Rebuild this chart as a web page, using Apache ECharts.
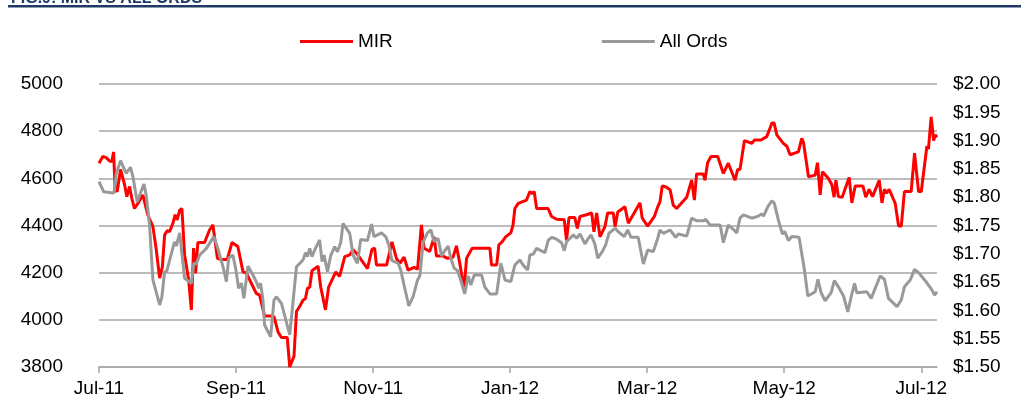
<!DOCTYPE html>
<html>
<head>
<meta charset="utf-8">
<script src="https://cdn.jsdelivr.net/npm/echarts@6/dist/echarts.min.js"></script>
<style>
  html, body { margin: 0; padding: 0; background: #fff; }
  #chart { width: 1021px; height: 410px; }
</style>
</head>
<body>
<div id="chart"></div>
<script>
// x = calendar days since 1 Jul 2011
var tickDays = [0, 61, 122, 183, 244, 305, 366];
var tickLabels = ['Jul-11', 'Sep-11', 'Nov-11', 'Jan-12', 'Mar-12', 'May-12', 'Jul-12'];

// MIR share price ($, right axis)
var mirDays = [0, 1.7, 3.2, 4.7, 5.7, 6.5, 7.2, 8.1, 9.6, 11.4, 12.4, 13.6, 14.6, 15.8, 17.3, 19.5,
  21.7, 24.0, 25.5, 27.0, 28.2, 29.2, 30.4, 31.4, 32.9, 33.9, 34.8, 35.9, 36.9, 38.1, 39.9, 41.1,
  42.1, 43.0, 44.0, 47.0, 49.2, 50.7, 51.5, 52.7, 54.4, 57.1, 59.2, 61.8, 62.6, 64.1, 65.6, 67.8,
  70.0, 71.5, 73.7, 76.0, 77.9, 79.7, 81.2, 83.8, 84.9, 86.8, 87.9, 89.3, 90.8, 91.9, 92.8, 93.8,
  94.8, 97.5, 98.7, 100.8, 102.2, 104.2, 105.4, 107.1, 109.4, 111.6, 113.1, 114.6, 119.5, 121.5,
  122.7, 123.5, 128.0, 130.4, 132.4, 133.9, 135.8, 137.6, 140.2, 141.8, 143.5, 144.7, 147.2, 149.2,
  150.2, 153.2, 155.1, 157.6, 159.1, 160.6, 162.5, 163.6, 166.1, 174.0, 174.7, 177.0, 178.0, 179.4,
  181.0, 183.3, 184.3, 185.1, 186.6, 190.3, 191.8, 192.7, 193.7, 194.8, 199.9, 201.4, 203.7, 207.1,
  208.1, 209.2, 211.8, 212.9, 214.1, 217.0, 219.3, 220.3, 221.5, 223.0, 225.2, 226.4, 228.9, 229.7,
  230.9, 234.1, 235.6, 240.8, 241.8, 244.2, 247.2, 248.7, 249.7, 250.7, 252.4, 254.2, 255.6, 257.1,
  261.6, 263.8, 265.0, 266.0, 269.0, 269.7, 270.9, 272.4, 275.4, 277.9, 280.1, 283.1, 284.3, 285.3,
  287.3, 290.6, 291.7, 294.7, 297.2, 298.7, 299.5, 300.5, 301.7, 304.6, 306.2, 307.6, 311.3, 312.8,
  313.6, 315.8, 318.8, 319.8, 321.0, 322.0, 324.7, 326.2, 327.2, 328.0, 329.1, 330.8, 333.9, 335.1,
  336.6, 340.0, 341.3, 342.8, 344.3, 347.3, 348.5, 349.6, 350.6, 351.7, 354.4, 355.9, 357.1, 358.5,
  361.5, 363.0, 364.8, 366.0, 368.5, 369.2, 370.4, 371.5, 372.2, 373.0];
var mirPrice = [1.860, 1.872, 1.870, 1.864, 1.863, 1.880, 1.813, 1.810, 1.849, 1.822, 1.801, 1.819,
  1.798, 1.780, 1.789, 1.804, 1.769, 1.748, 1.707, 1.657, 1.677, 1.733, 1.741, 1.739, 1.754, 1.769,
  1.760, 1.777, 1.780, 1.698, 1.654, 1.601, 1.710, 1.666, 1.720, 1.720, 1.742, 1.751, 1.748, 1.692,
  1.690, 1.690, 1.720, 1.713, 1.710, 1.668, 1.666, 1.648, 1.630, 1.627, 1.590, 1.590, 1.589, 1.562,
  1.552, 1.552, 1.500, 1.519, 1.598, 1.607, 1.618, 1.621, 1.639, 1.641, 1.670, 1.678, 1.641, 1.601,
  1.641, 1.658, 1.668, 1.660, 1.695, 1.698, 1.707, 1.701, 1.674, 1.708, 1.710, 1.680, 1.680, 1.721,
  1.692, 1.683, 1.694, 1.671, 1.676, 1.673, 1.751, 1.710, 1.704, 1.730, 1.696, 1.696, 1.692, 1.694,
  1.714, 1.683, 1.637, 1.692, 1.710, 1.710, 1.680, 1.680, 1.716, 1.721, 1.730, 1.737, 1.751, 1.780,
  1.789, 1.795, 1.810, 1.806, 1.810, 1.780, 1.780, 1.766, 1.761, 1.760, 1.724, 1.764, 1.764, 1.745,
  1.766, 1.769, 1.772, 1.739, 1.772, 1.730, 1.748, 1.772, 1.772, 1.748, 1.774, 1.783, 1.754, 1.790,
  1.763, 1.749, 1.766, 1.783, 1.792, 1.820, 1.818, 1.813, 1.786, 1.780, 1.800, 1.830, 1.795, 1.841,
  1.841, 1.830, 1.861, 1.872, 1.872, 1.842, 1.860, 1.830, 1.849, 1.849, 1.900, 1.895, 1.901, 1.901,
  1.907, 1.922, 1.931, 1.931, 1.910, 1.895, 1.890, 1.875, 1.880, 1.904, 1.896, 1.836, 1.839, 1.861,
  1.804, 1.845, 1.833, 1.822, 1.800, 1.830, 1.801, 1.800, 1.835, 1.790, 1.820, 1.820, 1.800, 1.814,
  1.801, 1.830, 1.790, 1.814, 1.807, 1.814, 1.789, 1.749, 1.749, 1.810, 1.810, 1.878, 1.810, 1.810,
  1.890, 1.885, 1.942, 1.900, 1.910, 1.906];

// All Ordinaries index (left axis)
var ordsDays = [0, 2.1, 5.4, 6.7, 7.7, 9.6, 12.1, 14.0, 15.1, 17.0, 20.0, 21.0, 22.5, 24.0, 27.0,
  28.0, 29.2, 30.1, 33.6, 34.4, 35.9, 38.1, 41.1, 42.2, 43.3, 44.8, 47.8, 51.1, 52.9, 55.2, 56.7,
  57.7, 59.6, 61.1, 62.1, 63.4, 64.5, 66.3, 68.5, 70.0, 71.1, 71.9, 73.0, 73.7, 76.4, 77.9, 78.9,
  81.2, 82.6, 84.9, 87.9, 90.8, 91.9, 92.8, 93.8, 94.8, 96.0, 98.2, 99.3, 100.2, 101.7, 103.1, 104.9,
  106.1, 107.6, 108.6, 111.6, 113.1, 115.0, 116.5, 119.5, 121.3, 122.4, 125.7, 127.6, 129.0, 130.4,
  133.1, 134.3, 136.1, 137.9, 139.8, 141.8, 142.8, 144.3, 146.2, 147.7, 149.2, 150.9, 152.5, 153.9,
  155.4, 156.6, 158.1, 159.6, 161.0, 162.8, 164.3, 165.5, 167.0, 170.3, 171.7, 174.0, 177.0, 178.9,
  180.7, 183.3, 185.1, 187.3, 188.8, 190.8, 191.8, 193.3, 194.8, 196.7, 198.5, 200.0, 201.7, 203.8,
  205.9, 207.1, 208.1, 211.1, 212.6, 214.1, 216.3, 217.5, 219.0, 220.7, 222.0, 224.0, 225.5, 227.0,
  229.7, 231.1, 233.8, 235.3, 236.8, 240.0, 242.3, 244.2, 246.7, 248.7, 249.7, 251.2, 254.2, 256.7,
  257.9, 261.6, 263.8, 266.0, 269.0, 270.1, 272.0, 276.5, 277.9, 280.1, 282.2, 283.9, 285.3, 286.8,
  290.6, 293.5, 295.0, 295.8, 297.7, 299.5, 300.6, 302.4, 304.2, 305.2, 306.9, 308.4, 311.6, 312.1,
  314.0, 315.5, 318.8, 320.0, 321.4, 323.2, 325.9, 327.3, 329.1, 331.4, 333.3, 335.1, 336.3, 337.3,
  341.8, 343.7, 347.7, 349.6, 351.4, 355.2, 357.1, 358.5, 361.1, 363.0, 364.8, 368.5, 370.8, 371.9,
  373.0];
var ordsIndex = [4586, 4543, 4539, 4539, 4621, 4675, 4621, 4647, 4607, 4501, 4576, 4529, 4402, 4169,
  4063, 4097, 4204, 4204, 4331, 4313, 4369, 4176, 4155, 4240, 4237, 4275, 4303, 4353, 4303, 4225,
  4162, 4261, 4275, 4204, 4134, 4155, 4091, 4228, 4190, 4162, 4134, 4155, 4084, 3978, 3928, 4084,
  4098, 4070, 4020, 3936, 4225, 4254, 4285, 4268, 4303, 4268, 4296, 4339, 4247, 4275, 4204, 4271,
  4310, 4289, 4327, 4409, 4367, 4275, 4240, 4341, 4336, 4406, 4353, 4369, 4353, 4317, 4251, 4240,
  4211, 4134, 4059, 4098, 4169, 4186, 4331, 4369, 4381, 4331, 4346, 4271, 4293, 4313, 4261, 4219,
  4208, 4169, 4110, 4186, 4148, 4190, 4190, 4140, 4110, 4110, 4240, 4169, 4162, 4232, 4254, 4232,
  4211, 4275, 4279, 4303, 4293, 4285, 4339, 4350, 4341, 4327, 4293, 4331, 4360, 4346, 4364, 4322,
  4341, 4360, 4322, 4261, 4289, 4317, 4367, 4388, 4374, 4353, 4381, 4350, 4350, 4237, 4296, 4289,
  4346, 4381, 4367, 4381, 4350, 4364, 4355, 4431, 4420, 4420, 4426, 4402, 4402, 4327, 4402, 4385,
  4369, 4431, 4445, 4431, 4440, 4449, 4440, 4480, 4505, 4494, 4423, 4364, 4375, 4336, 4353, 4350,
  4346, 4211, 4101, 4119, 4172, 4115, 4081, 4115, 4166, 4140, 4101, 4034, 4110, 4155, 4115, 4119,
  4091, 4186, 4172, 4091, 4056, 4084, 4140, 4169, 4214, 4200, 4157, 4126, 4105, 4119];

function zip(xs, ys) {
  return xs.map(function (x, i) { return [x, ys[i]]; });
}

var chart = echarts.init(document.getElementById('chart'));
var font = 'Liberation Sans, Arial, sans-serif';

var option = {
  animation: false,
  backgroundColor: '#fff',
  textStyle: { fontFamily: font },
  title: {
    text: 'FIG.9: MIR VS ALL ORDS',
    left: 6,
    top: -14,
    textStyle: { color: '#1F3864', fontSize: 16, fontWeight: 'bold', fontFamily: font }
  },
  graphic: [{
    type: 'rect',
    shape: { x: 8, y: 5, width: 1013, height: 2.5 },
    style: { fill: '#1F3864' }
  }],
  legend: {
    left: 295,
    top: 27,
    itemWidth: 53,
    itemHeight: 3,
    itemGap: 209,
    icon: 'rect',
    textStyle: { fontSize: 19, color: '#000', fontFamily: font },
    data: ['MIR', 'All Ords']
  },
  grid: { left: 99, right: 84, top: 84, bottom: 43 },
  xAxis: {
    type: 'value',
    min: 0,
    max: 373,
    axisLine: { show: true, lineStyle: { color: '#A6A6A6', width: 1.5 } },
    axisTick: { show: true, customValues: tickDays, length: 6, lineStyle: { color: '#A6A6A6', width: 1.5 } },
    axisLabel: {
      customValues: tickDays,
      margin: 12,
      fontSize: 19,
      color: '#000',
      formatter: function (v) {
        var i = tickDays.indexOf(v);
        return i >= 0 ? tickLabels[i] : '';
      }
    },
    splitLine: { show: false }
  },
  yAxis: [{
    type: 'value',
    min: 3800,
    max: 5000,
    interval: 200,
    axisLine: { show: false },
    axisTick: { show: false },
    axisLabel: {
      fontSize: 19, color: '#000', margin: 36,
      formatter: function (v) { return String(v); }
    },
    splitLine: { lineStyle: { color: '#A6A6A6', width: 1.5 } }
  }, {
    type: 'value',
    min: 1.5,
    max: 2.0,
    interval: 0.05,
    position: 'right',
    axisLine: { show: false },
    axisTick: { show: false },
    axisLabel: {
      fontSize: 19, color: '#000', margin: 16,
      formatter: function (v) { return '$' + v.toFixed(2); }
    },
    splitLine: { show: false }
  }],
  series: [{
    name: 'MIR',
    type: 'line',
    yAxisIndex: 1,
    symbol: 'none',
    color: '#FF0000',
    lineStyle: { color: '#FF0000', width: 3 },
    data: zip(mirDays, mirPrice)
  }, {
    name: 'All Ords',
    type: 'line',
    yAxisIndex: 0,
    symbol: 'none',
    color: '#999999',
    lineStyle: { color: '#999999', width: 3 },
    data: zip(ordsDays, ordsIndex)
  }]
};

chart.setOption(option);
</script>
</body>
</html>
